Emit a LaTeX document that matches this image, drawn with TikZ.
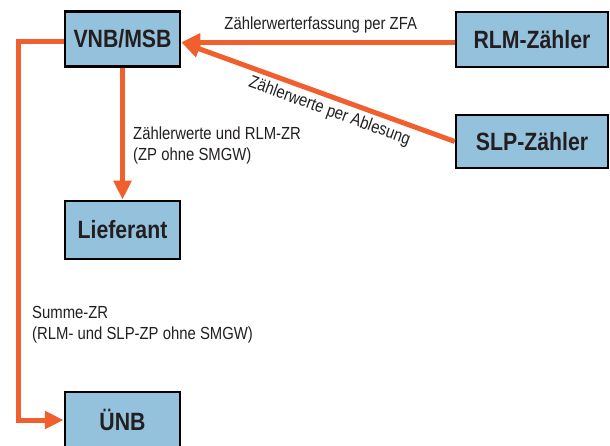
\documentclass[tikz,border=0pt]{standalone}
\usepackage{fontspec}
\setmainfont{Liberation Sans}[FakeStretch=0.85]
\usetikzlibrary{arrows.meta}
\definecolor{boxblue}{RGB}{148,194,220}
\definecolor{flow}{RGB}{240,95,45}
\definecolor{ink}{RGB}{35,31,32}
\begin{document}
\begin{tikzpicture}[x=1pt,y=-1pt,
  party/.style={draw=black,line width=2.5pt,fill=boxblue,text=ink,
    font=\fontsize{25}{28}\selectfont\bfseries,inner sep=0pt},
  lbl/.style={text=ink,font=\fontsize{17.5}{21}\selectfont,inner sep=0pt,align=left},
  flowarrow/.style={draw=flow,line width=5pt,-{Triangle[length=19pt,width=17pt]}}]
\useasboundingbox (0,0) rectangle (610,446);
\clip (0,0) rectangle (610,446);
\node[party,minimum width=115pt,minimum height=55pt] (vnb) at (122.5,38.8) {VNB/MSB};
\node[party,minimum width=152pt,minimum height=55pt] (rlm) at (532,39.5) {RLM-Zähler};
\node[party,minimum width=152pt,minimum height=53pt] (slp) at (532,141.5) {SLP-Zähler};
\node[party,minimum width=115pt,minimum height=58pt] (lief) at (122.5,230) {Lieferant};
\node[party,minimum width=115pt,minimum height=56pt] (unb) at (122.5,420) {ÜNB};
\coordinate (vnbin) at ([yshift=-3.5pt]vnb.east);
\coordinate (vnbout) at ([yshift=-3pt]vnb.west);
\coordinate (leftx) at (18,0);
\draw[flowarrow] (rlm.west |- vnbin) -- node[lbl,above=7pt,pos=0.49] (l1) {Zählerwerterfassung per ZFA} (vnbin);
\draw[flowarrow] (slp.west) -- node[lbl,sloped,below=4pt,pos=0.44] (l2) {Zählerwerte per Ablesung} (vnbin);
\draw[flowarrow] (vnb.south) -- (lief.north);
\draw[flowarrow] (vnbout) -- (vnbout -| leftx) |- (unb.west);
\node[lbl,anchor=north west] (l3) at (133,127) {Zählerwerte und RLM-ZR\\(ZP ohne SMGW)};
\node[lbl,anchor=north west] (l4) at (32,306) {Summe-ZR\\(RLM- und SLP-ZP ohne SMGW)};
\end{tikzpicture}
\end{document}
